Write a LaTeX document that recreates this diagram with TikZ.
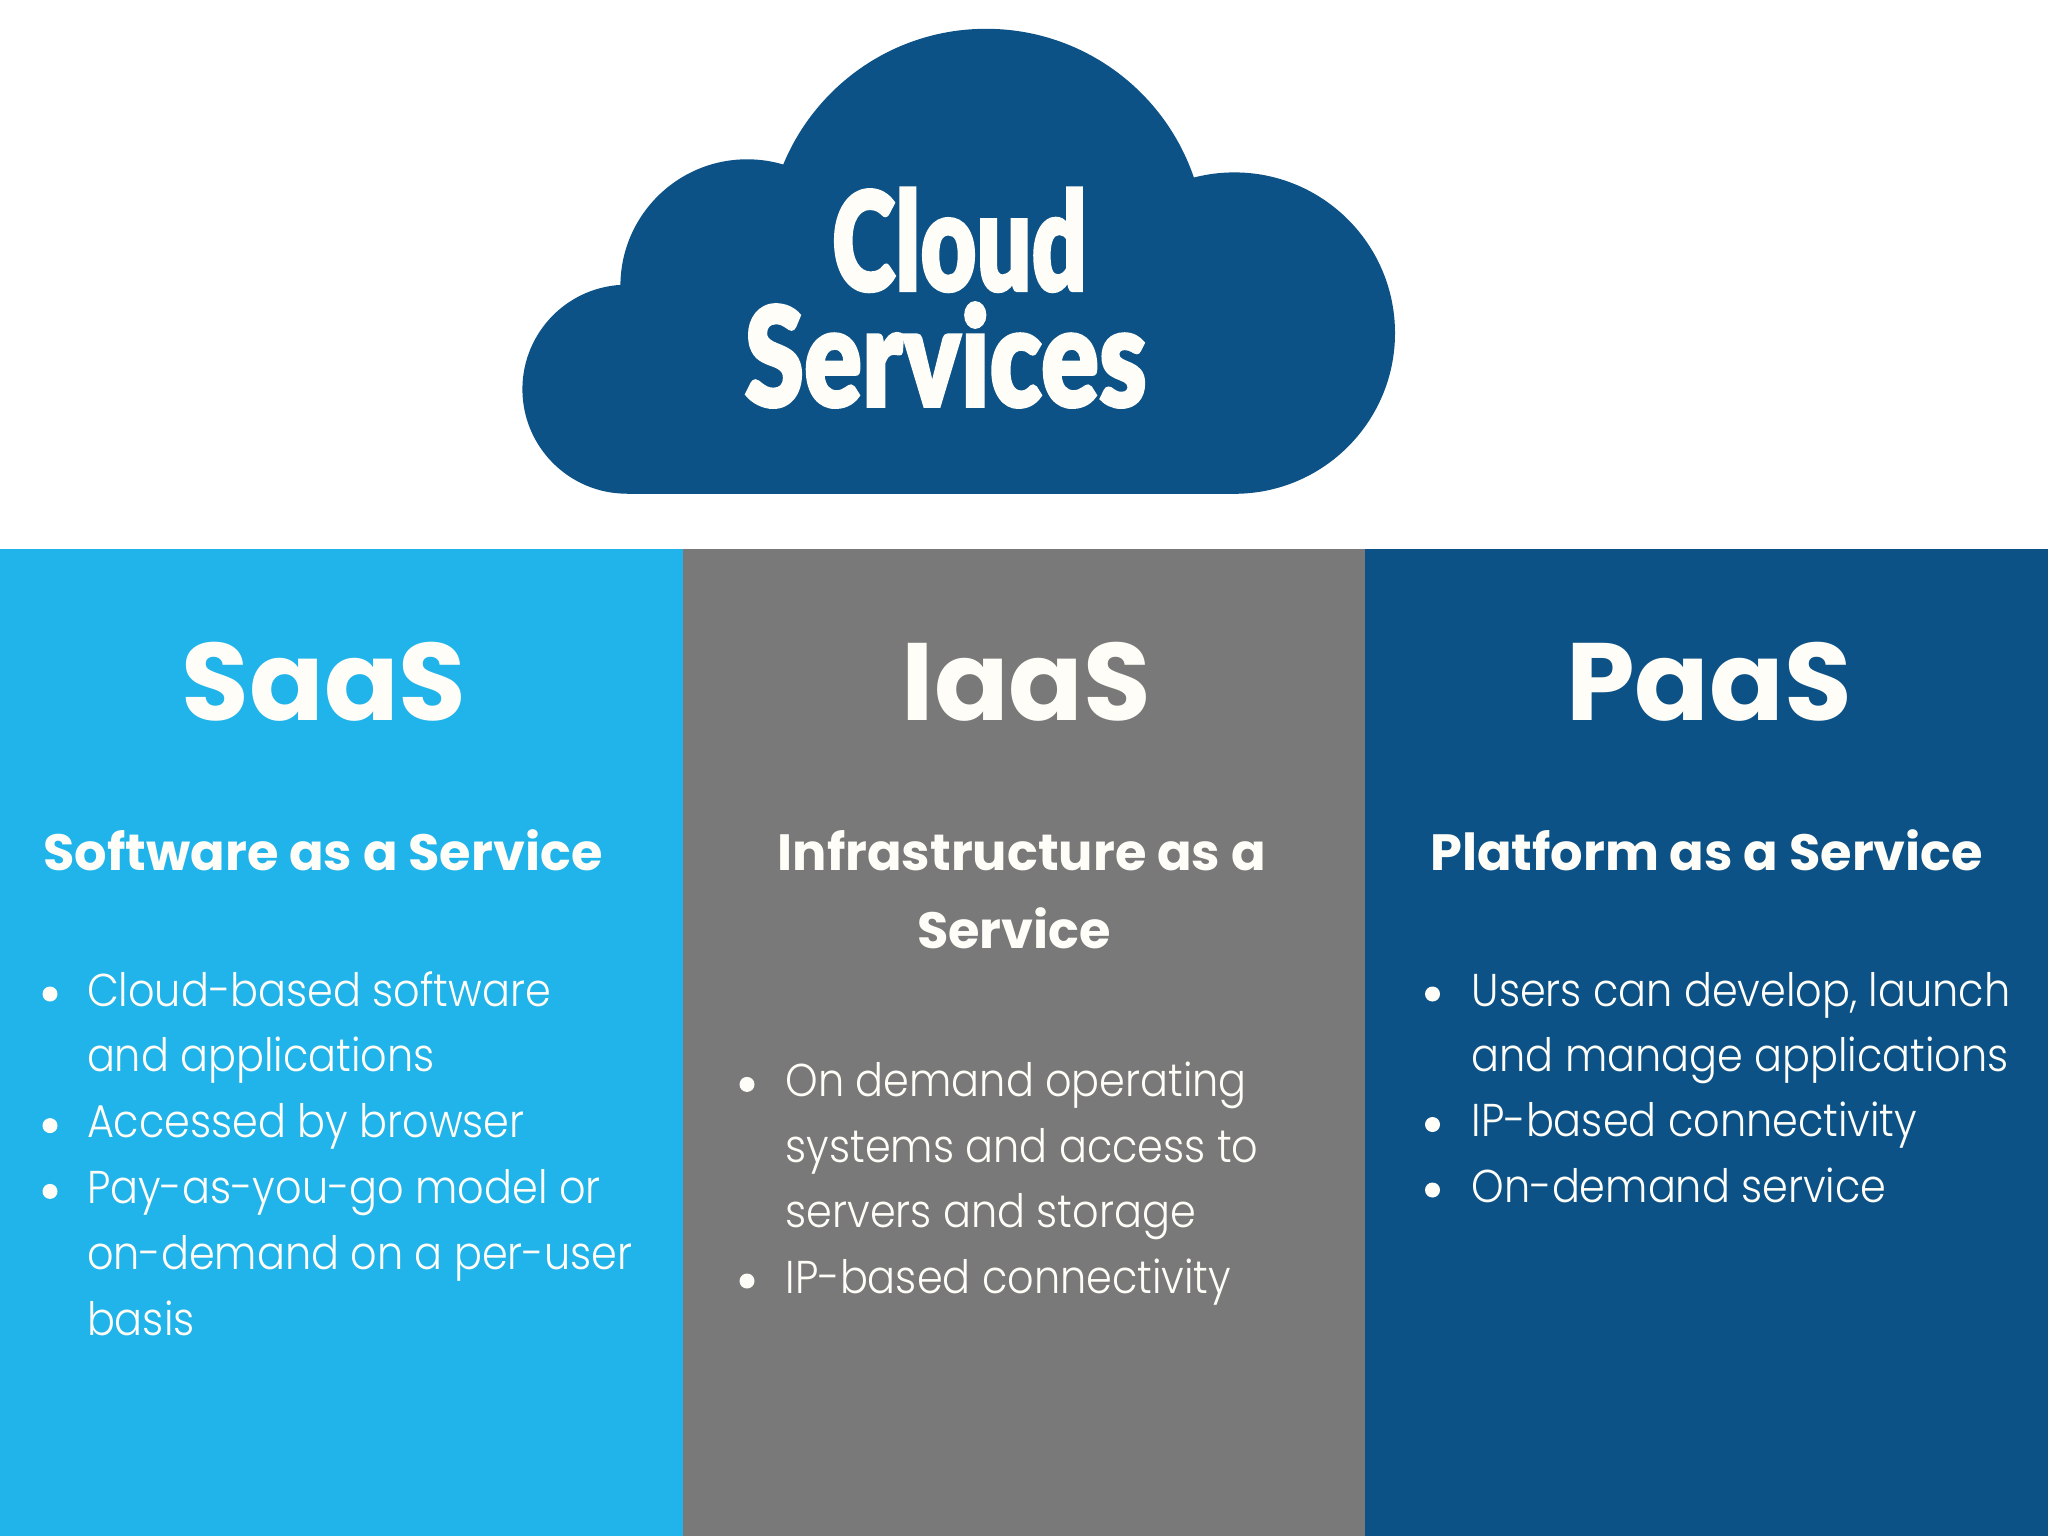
\documentclass[tikz,border=0pt]{standalone}
\usepackage{fontspec}
\usepackage{graphicx}
\newfontfamily\titlefont{Lato Black}[FakeBold=2]
\newfontfamily\headfont{Poppins Bold}
\newfontfamily\bodyfont{Poppins Light}[FakeStretch=0.9]
\definecolor{cloudblue}{HTML}{0C5286}
\definecolor{saasblue}{HTML}{21B4EA}
\definecolor{iaasgray}{HTML}{797979}
\definecolor{paasblue}{HTML}{0C5286}
\definecolor{txt}{HTML}{FFFDF7}
\tikzset{
  cloudfill/.style={fill=cloudblue, draw=none},
  txtnode/.style={inner sep=0pt, outer sep=0pt, text=txt},
  bighead/.style={txtnode, anchor=base, font=\headfont\fontsize{55}{60}\selectfont},
  subhead/.style={txtnode, anchor=base, font=\headfont\fontsize{25.5}{30}\selectfont},
  bodyline/.style={txtnode, anchor=base west, font=\bodyfont\fontsize{23}{27}\selectfont},
  bulletdot/.style={circle, fill=txt, draw=none, minimum size=7.5pt, inner sep=0pt},
  titleline/.style={txtnode, anchor=base, font=\titlefont}
}
\begin{document}
\begin{tikzpicture}[x=0.5pt, y=-0.5pt]
\useasboundingbox (0,0) rectangle (2048,1536);
\fill[white] (0,0) rectangle (2048,1536);
% cloud
\fill[cloudfill] (986.1,248.2) circle[radius=219.4];
\fill[cloudfill] (747.1,286.0) circle[radius=126.7];
\fill[cloudfill] (626.9,389.2) circle[radius=104.5];
\fill[cloudfill] (1234.3,333.1) circle[radius=160.7];
\fill[cloudfill] (626.9,300) rectangle (1234.3,493.7);
\node[titleline] (tcloud) at (959.5,290.8) {\resizebox{127.5pt}{51.5pt}{Cloud}};
\node[titleline] (tserv) at (945.6,406.5) {\resizebox{201pt}{52pt}{Services}};
% columns
\fill[saasblue] (0,548.6) rectangle (682.7,1536);
\fill[iaasgray] (682.7,548.6) rectangle (1365.3,1536);
\fill[paasblue] (1365.3,548.6) rectangle (2048,1536);
% headings
\node[bighead] (saas) at (324.3,720.5) {SaaS};
\node[bighead] (iaas) at (1026.5,720.5) {IaaS};
\node[bighead] (paas) at (1709,720.5) {PaaS};
\node[subhead] (saassub) at (323,870) {Software as a Service};
\node[subhead] (iaassub1) at (1021.7,870) {Infrastructure as a};
\node[subhead] (iaassub2) at (1014,948) {Service};
\node[subhead] (paassub) at (1706.6,870) {Platform as a Service};
% SaaS list
\node[bulletdot] (sb1) at (50,994) {};
\node[bulletdot] (sb2) at (50,1125.6) {};
\node[bulletdot] (sb3) at (50,1191.4) {};
\node[bodyline] (sl1) at (87,1006) {Cloud-based software};
\node[bodyline] (sl2) at (87,1071.8) {and applications};
\node[bodyline] (sl3) at (87,1137.6) {Accessed by browser};
\node[bodyline] (sl4) at (87,1203.4) {Pay-as-you-go model or};
\node[bodyline] (sl5) at (87,1269.2) {on-demand on a per-user};
\node[bodyline] (sl6) at (87,1335) {basis};
% IaaS list
\node[bulletdot] (ib1) at (747,1084.4) {};
\node[bulletdot] (ib2) at (747,1281) {};
\node[bodyline] (il1) at (785.7,1096.4) {On demand operating};
\node[bodyline] (il2) at (785.7,1162) {systems and access to};
\node[bodyline] (il3) at (785.7,1227.5) {servers and storage};
\node[bodyline] (il4) at (785.7,1293) {IP-based connectivity};
% PaaS list
\node[bulletdot] (pb1) at (1432.5,994) {};
\node[bulletdot] (pb2) at (1432.5,1124.5) {};
\node[bulletdot] (pb3) at (1432.5,1190) {};
\node[bodyline] (pl1) at (1471.7,1006) {Users can develop, launch};
\node[bodyline] (pl2) at (1471.7,1071) {and manage applications};
\node[bodyline] (pl3) at (1471.7,1136.5) {IP-based connectivity};
\node[bodyline] (pl4) at (1471.7,1202) {On-demand service};
\end{tikzpicture}
\end{document}
